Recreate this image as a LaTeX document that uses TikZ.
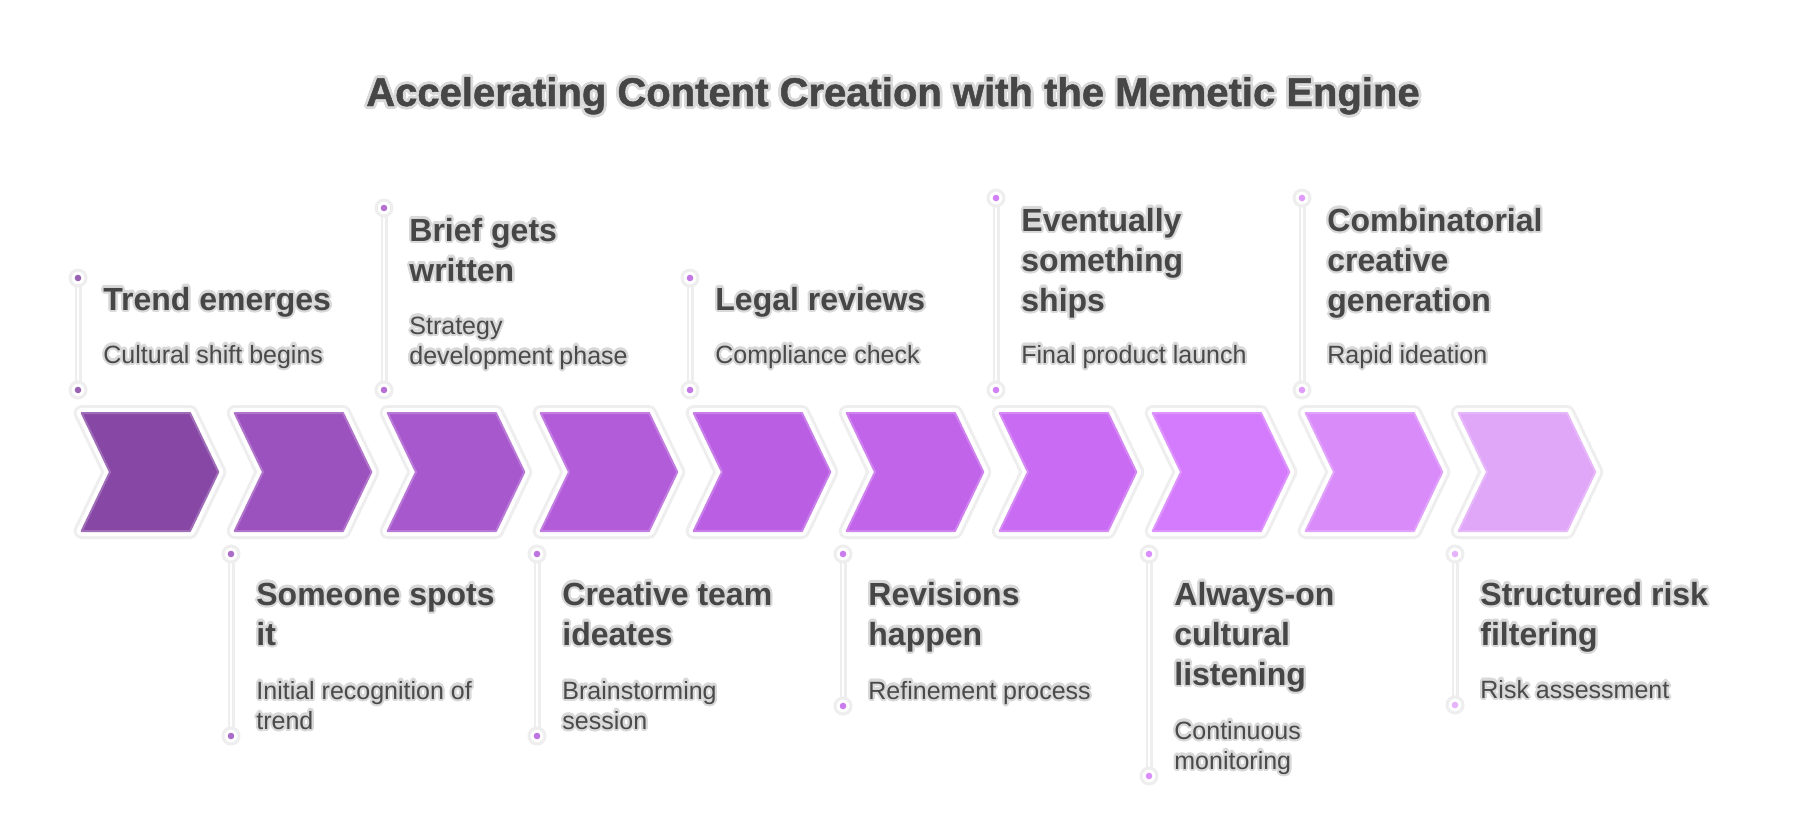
\documentclass[tikz,border=0pt]{standalone}
\usepackage{fontspec}
\setmainfont{Liberation Sans}
\newfontfamily\heavyfont[BoldFeatures={FakeBold=1.2}]{Liberation Sans}
\usepackage{contour}
\contourlength{1.1pt}
\definecolor{halo}{HTML}{D9D9D9}
\definecolor{txt}{HTML}{464646}
\definecolor{dtxt}{HTML}{4A4A4A}
\definecolor{band}{HTML}{EEEEEE}
\definecolor{ch1}{HTML}{8747A5}
\definecolor{ch2}{HTML}{9C52BE}
\definecolor{ch3}{HTML}{A858CD}
\definecolor{ch4}{HTML}{B35CDA}
\definecolor{ch5}{HTML}{BA5FE3}
\definecolor{ch6}{HTML}{C164EA}
\definecolor{ch7}{HTML}{C96BF3}
\definecolor{ch8}{HTML}{D47AFD}
\definecolor{ch9}{HTML}{D98BFA}
\definecolor{ch10}{HTML}{E0A6F8}
\newcommand\hl[1]{\contour{halo}{#1}}
\begin{document}
\begin{tikzpicture}[x=0.5pt,y=-0.5pt,
  head/.style={font=\bfseries\fontsize{16}{20}\selectfont, text=txt, align=left, anchor=base west, inner sep=0pt},
  desc/.style={font=\fontsize{12.5}{15}\selectfont, text=dtxt, align=left, anchor=base west, inner sep=0pt},
  ring/.style={circle, fill=white, draw=band, line width=1.5pt, minimum size=8pt, inner sep=0pt},
  vband/.style={band, line width=3.5pt},
  vcore/.style={white, line width=1.2pt}]
\useasboundingbox[fill=white] (0,0) rectangle (1794,836);

\node[font=\heavyfont\bfseries\fontsize{20}{24}\selectfont, text=txt, anchor=base, inner sep=0pt] (title) at (893,106) {\contourlength{1.4pt}\hl{Accelerating Content Creation with the Memetic Engine}};

% chevrons
\foreach \i in {1,...,10}{
  \pgfmathsetmacro\L{81.7+153*(\i-1)}
  \draw[band, line width=8pt, line join=round] (\L,413) -- ++(108.3,0) -- ++(28.3,59) -- ++(-28.3,59) -- ++(-108.3,0) -- ++(28.3,-59) -- cycle;
  \draw[white, line width=5pt, line join=round] (\L,413) -- ++(108.3,0) -- ++(28.3,59) -- ++(-28.3,59) -- ++(-108.3,0) -- ++(28.3,-59) -- cycle;
  \draw[ch\i!80!white, fill=ch\i, line width=1pt, line join=round] (\L,413) -- ++(108.3,0) -- ++(28.3,59) -- ++(-28.3,59) -- ++(-108.3,0) -- ++(28.3,-59) -- cycle;
}

% connector dots and lines
\foreach \i/\x/\ya/\yb in {1/78/278/390, 2/231/554/736, 3/384/208/390, 4/537/554/736, 5/690/278/390, 6/843/554/706, 7/996/198/390, 8/1149/554/776, 9/1302/198/390, 10/1455/554/705}{
  \coordinate (p\i) at (\x,\ya);
  \coordinate (q\i) at (\x,\yb);
  \draw[vband] (p\i) -- (q\i);
  \draw[vcore] (p\i) -- (q\i);
  \node[ring] (a\i) at (p\i) {};
  \node[ring] (b\i) at (q\i) {};
  \fill[ch\i!85!white] (a\i.center) circle (3.3);
  \fill[ch\i!85!white] (b\i.center) circle (3.3);
}

% texts - top (multi-line nodes are placed by their last baseline)
\node[head] (t1) at (103,310) {\hl{Trend emerges}};
\node[desc] (d1) at (103,363) {\hl{Cultural shift begins}};
\node[head] (t3) at (409,281) {\hl{Brief gets}\\\hl{written}};
\node[desc] (d3) at (409,364) {\hl{Strategy}\\\hl{development phase}};
\node[head] (t5) at (715,310) {\hl{Legal reviews}};
\node[desc] (d5) at (715,363) {\hl{Compliance check}};
\node[head] (t7) at (1021,311) {\hl{Eventually}\\\hl{something}\\\hl{ships}};
\node[desc] (d7) at (1021,363) {\hl{Final product launch}};
\node[head] (t9) at (1327,311) {\hl{Combinatorial}\\\hl{creative}\\\hl{generation}};
\node[desc] (d9) at (1327,363) {\hl{Rapid ideation}};

% texts - bottom
\node[head] (t2) at (256,645) {\hl{Someone spots}\\\hl{it}};
\node[desc] (d2) at (256,729) {\hl{Initial recognition of}\\\hl{trend}};
\node[head] (t4) at (562,645) {\hl{Creative team}\\\hl{ideates}};
\node[desc] (d4) at (562,729) {\hl{Brainstorming}\\\hl{session}};
\node[head] (t6) at (868,645) {\hl{Revisions}\\\hl{happen}};
\node[desc] (d6) at (868,699) {\hl{Refinement process}};
\node[head] (t8) at (1174,685) {\hl{Always-on}\\\hl{cultural}\\\hl{listening}};
\node[desc] (d8) at (1174,769) {\hl{Continuous}\\\hl{monitoring}};
\node[head] (t10) at (1480,645) {\hl{Structured risk}\\\hl{filtering}};
\node[desc] (d10) at (1480,698) {\hl{Risk assessment}};
\end{tikzpicture}
\end{document}
